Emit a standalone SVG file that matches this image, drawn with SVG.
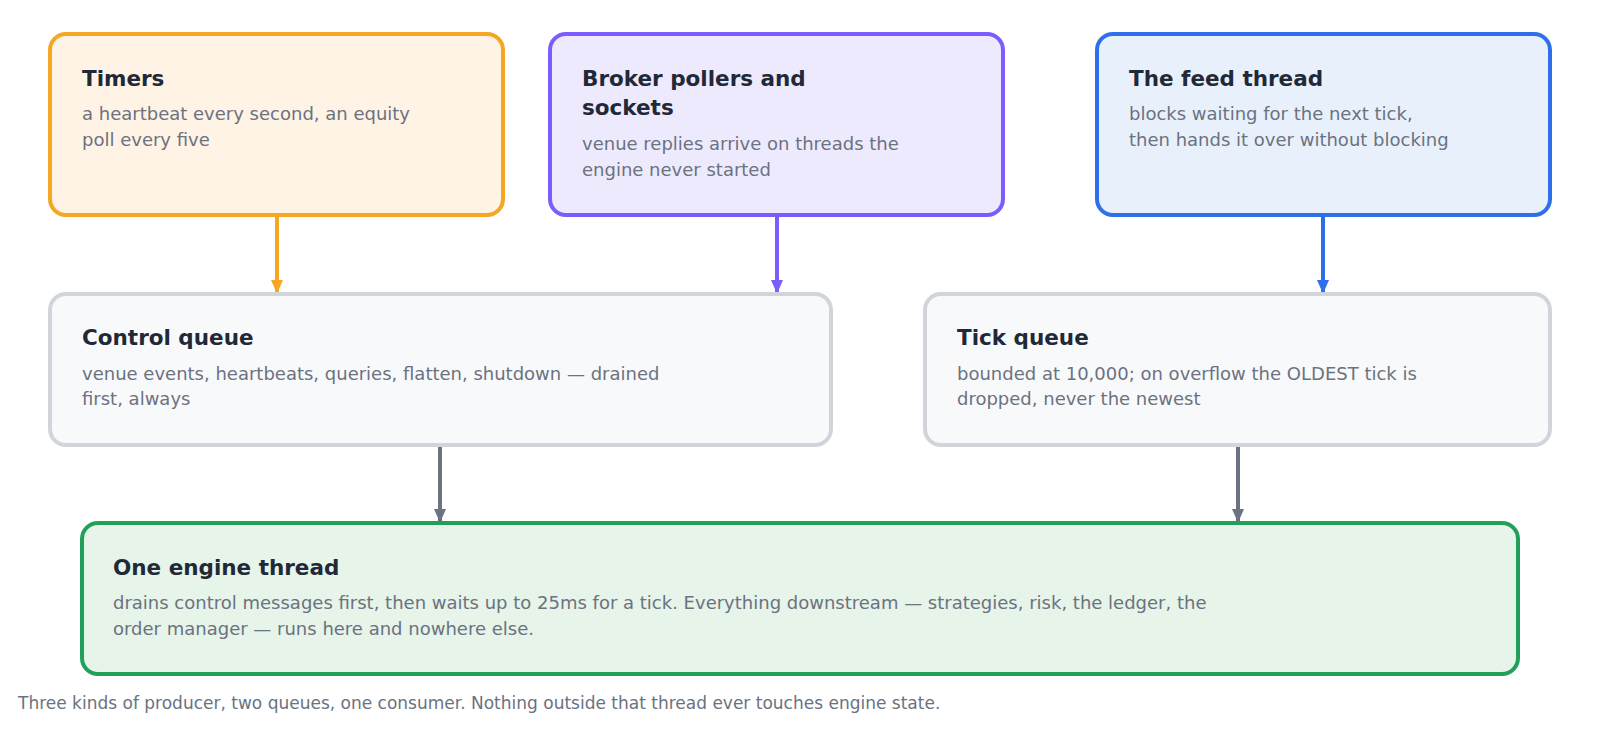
<svg xmlns="http://www.w3.org/2000/svg" width="1600" height="741" viewBox="0 0 1600 741">
<style>
.t{font-family:"DejaVu Sans",sans-serif;font-size:21.5px;font-weight:bold;fill:#1f2937}
.d{font-family:"DejaVu Sans",sans-serif;font-size:18px;fill:#6b7280}
.c{font-family:"DejaVu Sans",sans-serif;font-size:17px;fill:#6b7280}
rect{stroke-width:4}
</style>
<defs>
<marker id="ao" markerWidth="14" markerHeight="16" refX="14" refY="7" orient="auto" markerUnits="userSpaceOnUse" viewBox="0 0 16 14"><path d="M0,0L16,7L0,14z" fill="#f5a623"/></marker>
<marker id="ap" markerWidth="14" markerHeight="16" refX="14" refY="7" orient="auto" markerUnits="userSpaceOnUse" viewBox="0 0 16 14"><path d="M0,0L16,7L0,14z" fill="#7c5cff"/></marker>
<marker id="ab" markerWidth="14" markerHeight="16" refX="14" refY="7" orient="auto" markerUnits="userSpaceOnUse" viewBox="0 0 16 14"><path d="M0,0L16,7L0,14z" fill="#2f6fea"/></marker>
<marker id="ag" markerWidth="14" markerHeight="16" refX="14" refY="7" orient="auto" markerUnits="userSpaceOnUse" viewBox="0 0 16 14"><path d="M0,0L16,7L0,14z" fill="#6b7280"/></marker>
</defs>
<rect width="1600" height="741" fill="#fff" stroke="none"/>
<g id="connectors" stroke-width="4" fill="none">
<path d="M277,215V292" stroke="#f5a623" marker-end="url(#ao)"/>
<path d="M777,215V292" stroke="#7c5cff" marker-end="url(#ap)"/>
<path d="M1323,215V292" stroke="#2f6fea" marker-end="url(#ab)"/>
<path d="M440,445V521" stroke="#6b7280" marker-end="url(#ag)"/>
<path d="M1238,445V521" stroke="#6b7280" marker-end="url(#ag)"/>
</g>
<g id="timers"><rect x="50" y="34" width="453" height="181" rx="16" fill="#fff3e6" stroke="#f5a623"/>
<text class="t" x="82" y="86">Timers</text>
<text class="d" x="82" y="120">a heartbeat every second, an equity</text>
<text class="d" x="82" y="146">poll every five</text></g>
<g id="broker"><rect x="550" y="34" width="453" height="181" rx="16" fill="#eeeafe" stroke="#7c5cff"/>
<text class="t" x="582" y="86">Broker pollers and</text>
<text class="t" x="582" y="115">sockets</text>
<text class="d" x="582" y="150">venue replies arrive on threads the</text>
<text class="d" x="582" y="176">engine never started</text></g>
<g id="feed"><rect x="1097" y="34" width="453" height="181" rx="16" fill="#e8f0fc" stroke="#2f6fea"/>
<text class="t" x="1129" y="86">The feed thread</text>
<text class="d" x="1129" y="120">blocks waiting for the next tick,</text>
<text class="d" x="1129" y="146">then hands it over without blocking</text></g>
<g id="control"><rect x="50" y="294" width="781" height="151" rx="16" fill="#f8f9fb" stroke="#d1d5db"/>
<text class="t" x="82" y="345">Control queue</text>
<text class="d" x="82" y="380">venue events, heartbeats, queries, flatten, shutdown — drained</text>
<text class="d" x="82" y="405">first, always</text></g>
<g id="tick"><rect x="925" y="294" width="625" height="151" rx="16" fill="#f8f9fb" stroke="#d1d5db"/>
<text class="t" x="957" y="345">Tick queue</text>
<text class="d" x="957" y="380">bounded at 10,000; on overflow the OLDEST tick is</text>
<text class="d" x="957" y="405">dropped, never the newest</text></g>
<g id="engine"><rect x="82" y="523" width="1436" height="151" rx="16" fill="#e6f4ea" stroke="#22a05a"/>
<text class="t" x="113" y="575">One engine thread</text>
<text class="d" x="113" y="609">drains control messages first, then waits up to 25ms for a tick. Everything downstream — strategies, risk, the ledger, the</text>
<text class="d" x="113" y="635">order manager — runs here and nowhere else.</text></g>
<text class="c" x="18" y="709">Three kinds of producer, two queues, one consumer. Nothing outside that thread ever touches engine state.</text>
</svg>
